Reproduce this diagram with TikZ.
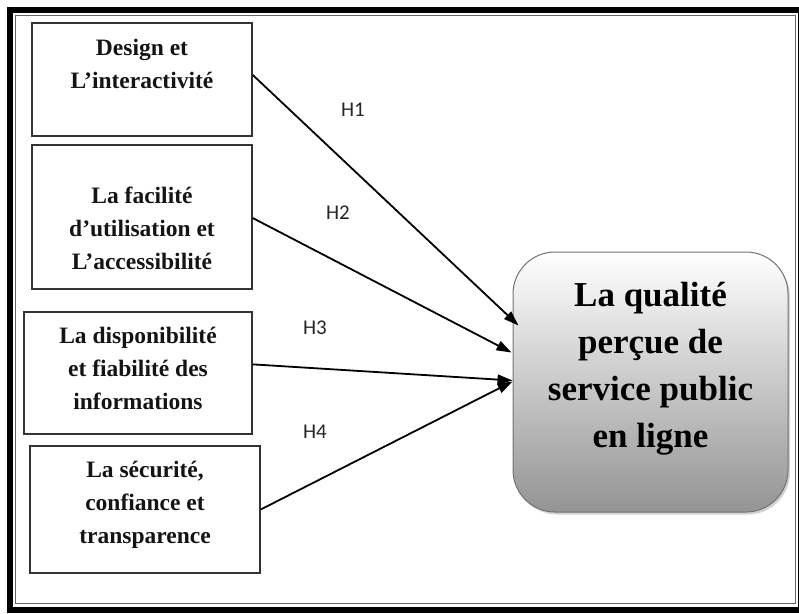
\documentclass[tikz,border=0pt]{standalone}
\usepackage{fontspec}
\setmainfont{Liberation Serif}
\newfontfamily\hypfont{Carlito}
\usetikzlibrary{arrows.meta,calc,shadows}

\begin{document}
\begin{tikzpicture}[x=1pt,y=-1pt,
  factor/.style={draw=black!80, line width=1.4pt, inner sep=0pt},
  factortext/.style={font=\bfseries\fontsize{23.5}{33}\selectfont, align=center, inner sep=0pt, text=black!92},
  outcome/.style={draw=black!55, line width=1pt, rounded corners=42pt,
    top color=white, bottom color=black!42,
    drop shadow={opacity=0.35, shadow xshift=2pt, shadow yshift=-2.5pt},
    minimum width=275pt, minimum height=260pt, inner sep=0pt},
  outcometext/.style={font=\bfseries\fontsize{35}{47}\selectfont, align=center, inner sep=0pt},
  hyp/.style={line width=1.8pt, -{Triangle[length=15pt,width=10pt]}},
  hyplabel/.style={font=\hypfont\fontsize{21}{24}\selectfont, inner sep=0pt, text=black!85}]

\useasboundingbox (0,0) rectangle (799,613);

% page frame: heavy outer rule and a thin inner rule
\draw[line width=6pt] (10,10) rectangle (801,609.5);
\draw[line width=1.4pt, draw=black!60] (15.5,15.5) rectangle (795.5,603.5);

% independent factors
\node[factor, minimum width=220pt, minimum height=113pt] (b1) at (142,79.5) {};
\node[factor, minimum width=220pt, minimum height=144pt] (b2) at (142,217) {};
\node[factor, minimum width=228pt, minimum height=122pt] (b3) at (138,373) {};
\node[factor, minimum width=230pt, minimum height=127pt] (b4) at (145,509.5) {};

\node[factortext] (t1) at (142,63.5) {Design et\\L’interactivité};
\node[factortext] (t2) at (142,228) {La facilité\\d’utilisation et\\L’accessibilité};
\node[factortext] (t3) at (138,368) {La disponibilité\\et fiabilité des\\informations};
\node[factortext] (t4) at (145,505) {La sécurité,\\confiance et\\transparence};

% dependent construct
\node[outcome] (q) at (650.5,382) {};
\node[outcometext] (qt) at (650.5,369) {La qualité\\perçue de\\service public\\en ligne};

% arrow tips on the left side of the outcome box
\coordinate (e1) at ($(q.north west)+(6,74)$);
\coordinate (e2) at ($(q.north west)+(-1,101)$);
\coordinate (e3) at ($(q.north west)+(0,129)$);
\coordinate (e4) at ($(q.north west)+(0,130)$);

\draw[hyp] ($(b1.north east)!0.46!(b1.south east)$) -- (e1);
\draw[hyp] ($(b2.north east)!0.507!(b2.south east)$) -- (e2);
\draw[hyp] ($(b3.north east)!0.43!(b3.south east)$) -- (e3);
\draw[hyp] (b4.east) -- (e4);

% hypothesis labels
\node[hyplabel] (h1) at (353,110) {H1};
\node[hyplabel] (h2) at (338,213) {H2};
\node[hyplabel] (h3) at (315,328) {H3};
\node[hyplabel] (h4) at (315,432) {H4};
\end{tikzpicture}
\end{document}
